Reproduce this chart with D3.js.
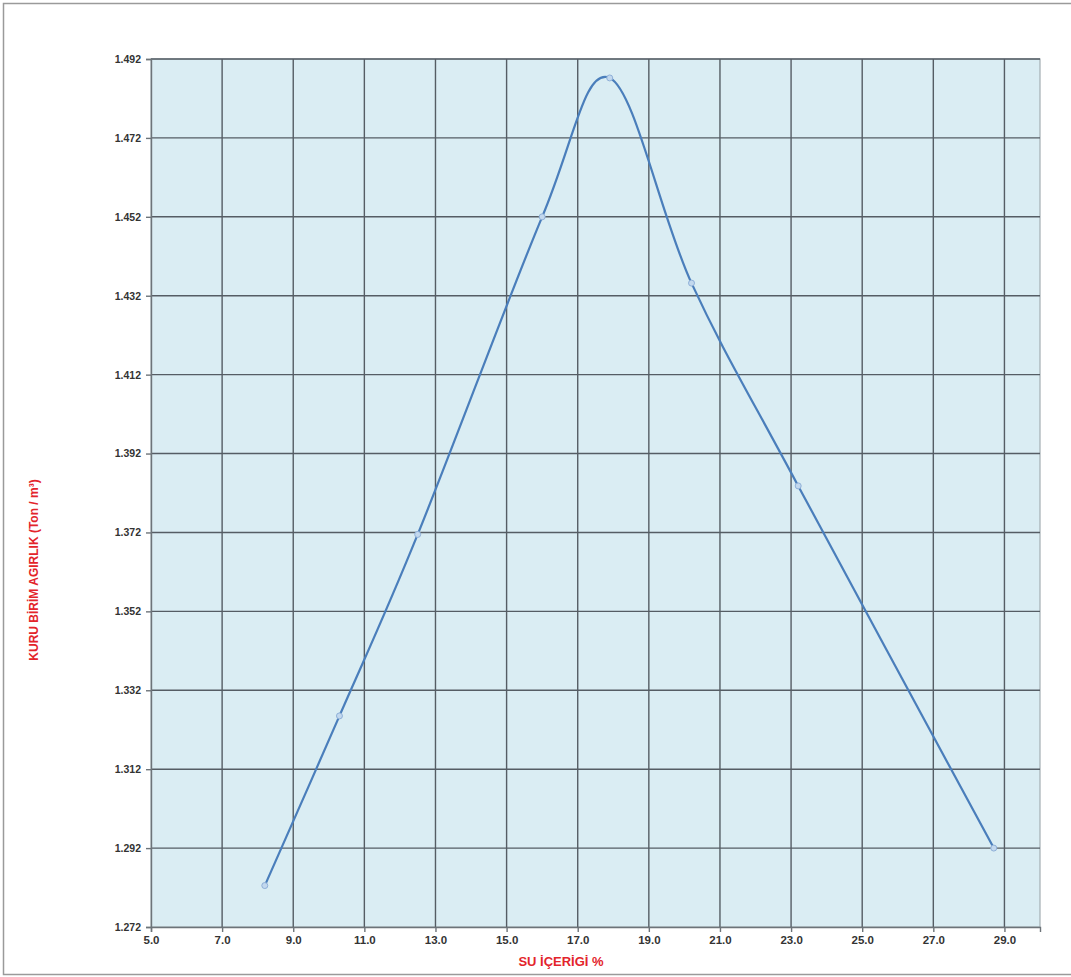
<!DOCTYPE html>
<html>
<head>
<meta charset="utf-8">
<script src="https://cdn.jsdelivr.net/npm/d3@7"></script>
<style>
  html, body { margin: 0; padding: 0; background: #fff; }
  svg { display: block; }
</style>
</head>
<body>
<svg id="chart" width="1071" height="977"></svg>
<script>
// Data
const waterContent = [8.2, 10.3, 12.5, 16.0, 17.9, 20.2, 23.2, 28.7];
const dryUnitWeight = [1.2825, 1.3255, 1.3715, 1.4520, 1.4872, 1.4352, 1.3838, 1.2920];
const xTicks = [5, 7, 9, 11, 13, 15, 17, 19, 21, 23, 25, 27, 29];
const yTicks = [1.272, 1.292, 1.312, 1.332, 1.352, 1.372, 1.392, 1.412, 1.432, 1.452, 1.472, 1.492];
const xTitle = "SU İÇERİGİ %";
const yTitle = "KURU BİRİM AGIRLIK (Ton / m³)";

const svg = d3.select("#chart");
const W = 1071, H = 977;
const plot = { left: 151, top: 59, right: 1040, bottom: 927 };

// outer frame
svg.append("rect").attr("x", 3.5).attr("y", 3.5).attr("width", W + 5).attr("height", 971)
  .attr("fill", "#fff").attr("stroke", "#9a9a9a").attr("stroke-width", 1.5);

const x = d3.scaleLinear().domain([5, 30]).range([plot.left, plot.right]);
const y = d3.scaleLinear().domain([1.272, 1.492]).range([plot.bottom, plot.top]);

// plot background
svg.append("rect").attr("x", plot.left).attr("y", plot.top)
  .attr("width", plot.right - plot.left).attr("height", plot.bottom - plot.top)
  .attr("fill", "#daedf3").attr("stroke", "#a3aeb3").attr("stroke-width", 1.2);

// gridlines
const grid = svg.append("g").attr("stroke", "#555d64").attr("stroke-width", 1.4);
grid.selectAll(".vx").data(xTicks.slice(1)).join("line")
  .attr("x1", d => x(d)).attr("x2", d => x(d))
  .attr("y1", plot.top).attr("y2", plot.bottom);
grid.selectAll(".hy").data(yTicks.slice(1)).join("line")
  .attr("x1", plot.left).attr("x2", plot.right)
  .attr("y1", d => y(d)).attr("y2", d => y(d));

// axes
const fmtX = d3.format(".1f"), fmtY = d3.format(".3f");
const xAxis = svg.append("g").attr("transform", `translate(0,${plot.bottom})`)
  .call(d3.axisBottom(x).tickValues(xTicks).tickFormat(fmtX).tickSize(5).tickPadding(4));
const yAxis = svg.append("g").attr("transform", `translate(${plot.left},0)`)
  .call(d3.axisLeft(y).tickValues(yTicks).tickFormat(fmtY).tickSize(5).tickPadding(5));
[xAxis, yAxis].forEach(a => {
  a.select(".domain").attr("stroke", "#6d7479").attr("stroke-width", 1.4);
  a.selectAll(".tick line").attr("stroke", "#6d7479").attr("stroke-width", 1.4);
  a.selectAll(".tick text").attr("fill", "#333").attr("font-family", "Liberation Sans, Arial, sans-serif")
    .attr("font-size", 11).attr("font-weight", "bold");
});
xAxis.selectAll(".tick text").attr("font-size", 11.5);
yAxis.selectAll(".tick text").attr("font-size", 10.5);

// smoothed line (Excel-like)
const line = d3.line()
  .x((d, i) => x(waterContent[i]))
  .y(d => y(d))
  .curve(d3.curveCatmullRom.alpha(0));
svg.append("path").datum(dryUnitWeight)
  .attr("d", line).attr("fill", "none")
  .attr("stroke", "#4a7ebb").attr("stroke-width", 2.2);

// markers
svg.selectAll(".pt").data(dryUnitWeight).join("circle")
  .attr("cx", (d, i) => x(waterContent[i])).attr("cy", d => y(d)).attr("r", 3)
  .attr("fill", "#c2d8ee").attr("stroke", "#8fb0d8").attr("stroke-width", 1);

// titles
svg.append("text").attr("x", 561).attr("y", 966).attr("text-anchor", "middle")
  .attr("fill", "#e3242b").attr("font-family", "Liberation Sans, Arial, sans-serif")
  .attr("font-size", 13).attr("font-weight", "bold").text(xTitle);
svg.append("text").attr("transform", "translate(38,570) rotate(-90)").attr("text-anchor", "middle")
  .attr("fill", "#e3242b").attr("font-family", "Liberation Sans, Arial, sans-serif")
  .attr("font-size", 12).attr("font-weight", "bold").text(yTitle);
</script>
</body>
</html>
